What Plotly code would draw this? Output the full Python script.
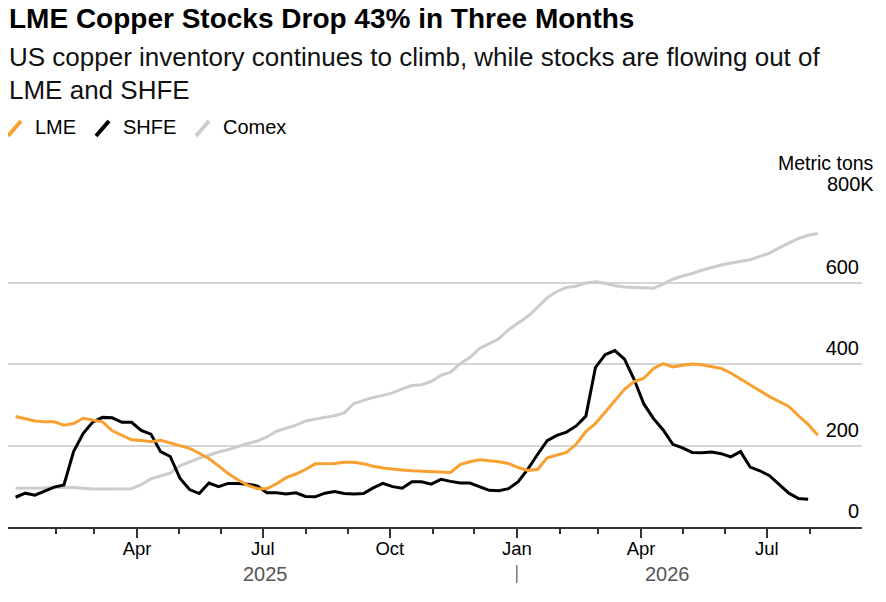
import pandas as pd
import plotly.graph_objects as go

# weekly stock readings, thousand metric tons (Friday closes)
week_start = "2025-01-03"
n_weeks = 84
dates = pd.date_range(week_start, periods=n_weeks, freq="7D")

lme = [271, 265, 260, 258, 258, 250, 254, 267, 263, 258,
       236, 225, 214, 212, 209, 213, 206, 200, 193, 181,
       168, 150, 131, 116, 103, 94, 94, 106, 121, 130,
       141, 155, 156, 156, 159, 159, 155, 149, 145, 142,
       140, 138, 137, 137, 135, 134, 153, 160, 165, 163,
       160, 156, 146, 139, 141, 170, 176, 183, 203, 234,
       254, 281, 310, 338, 357, 365, 389, 401, 393, 397,
       400, 398, 394, 389, 378, 363, 349, 334, 320, 308,
       296, 273, 252, 225]

shfe = [73, 83, 78, 88, 98, 103, 185, 230, 258, 269,
        268, 257, 257, 237, 228, 185, 173, 120, 92, 82,
        108, 99, 107, 107, 105, 101, 84, 84, 81, 84,
        75, 74, 83, 87, 82, 81, 82, 96, 107, 99,
        95, 111, 111, 105, 117, 112, 108, 108, 99, 90,
        89, 94, 111, 142, 178, 212, 225, 233, 248, 272,
        392, 423, 433, 412, 362, 302, 266, 238, 203, 194,
        183, 182, 184, 180, 172, 185, 147, 138, 126, 104,
        83, 70, 68]

comex = [95, 95, 96, 96, 97, 97, 97, 95, 93, 93,
         93, 93, 94, 104, 118, 125, 132, 150, 160, 169,
         176, 184, 190, 198, 205, 211, 221, 235, 242, 250,
         260, 265, 269, 273, 280, 303, 311, 318, 323, 329,
         339, 347, 349, 357, 372, 380, 401, 416, 438, 450,
         462, 484, 500, 517, 539, 563, 578, 588, 591, 599,
         602, 598, 592, 589, 588, 587, 586, 596, 608, 616,
         622, 630, 637, 643, 648, 652, 656, 664, 672, 685,
         697, 708, 716, 720]

quarter_ticks = ["2025-04-01", "2025-07-01", "2025-10-01",
                 "2026-01-01", "2026-04-01", "2026-07-01"]
quarter_labels = ["Apr", "Jul", "Oct", "Jan", "Apr", "Jul"]
month_ticks = pd.date_range("2025-02-01", "2026-08-01", freq="MS")
y_ticks = [0, 200, 400, 600, 800]
y_labels = ["0", "200", "400", "600", ""]

ORANGE = "#f8a030"
GRAY = "#cccccc"
FONT = "Liberation Sans, Arial, sans-serif"

# page has an 8px body margin, so the figure is shrunk and everything
# below is given in page pixels
OFF = 8
W, H = 886 - 2 * OFF, 602 - 2 * OFF
L, R, T, B = 8, 862, 201, 527   # plot area in page pixels


def px_x(p):
    return (p - L) / (R - L)


def px_y(p):
    return (B - p) / (B - T)


fig = go.Figure()
fig.add_trace(go.Scatter(x=dates[:len(comex)], y=comex, name="Comex", mode="lines",
                         line=dict(color=GRAY, width=3)))
fig.add_trace(go.Scatter(x=dates[:len(shfe)], y=shfe, name="SHFE", mode="lines",
                         line=dict(color="#000000", width=3)))
fig.add_trace(go.Scatter(x=dates[:len(lme)], y=lme, name="LME", mode="lines",
                         line=dict(color=ORANGE, width=3)))

fig.update_layout(
    width=W, height=H,
    margin=dict(l=L - OFF, r=W - (R - OFF), t=T - OFF, b=H - (B - OFF), pad=0),
    paper_bgcolor="white", plot_bgcolor="white",
    showlegend=False,
    font=dict(family=FONT, color="#000000"),
)

fig.update_xaxes(
    range=["2024-12-28 12:00", "2026-09-08"],
    tickmode="array", tickvals=quarter_ticks, ticktext=quarter_labels,
    ticks="outside", ticklen=9, tickwidth=1.5, tickcolor="#333333",
    minor=dict(tickmode="array", tickvals=month_ticks, ticks="outside",
               ticklen=5, tickwidth=1.5, tickcolor="#333333", showgrid=False),
    showgrid=False, showline=True, linecolor="#333333", linewidth=2,
    tickfont=dict(size=18.5, color="#000000"),
    ticklabelstandoff=-5,
    zeroline=False,
)

fig.update_yaxes(
    range=[0, 800], side="right",
    tickmode="array", tickvals=y_ticks, ticktext=y_labels,
    ticklabelposition="inside top", ticks="", ticklabelshift=-2,
    tickfont=dict(size=20, color="#000000"),
    showgrid=True, gridcolor="#d6d6d6", gridwidth=1.5,
    zeroline=False, showline=False,
)

# header texts
fig.add_annotation(text="<b>LME Copper Stocks Drop 43% in Three Months</b>",
                   x=px_x(7), y=px_y(19), xref="paper", yref="paper",
                   xanchor="left", yanchor="middle", showarrow=False,
                   font=dict(size=28, color="#000000"))
fig.add_annotation(text="US copper inventory continues to climb, while stocks are flowing out of",
                   x=px_x(7), y=px_y(57), xref="paper", yref="paper",
                   xanchor="left", yanchor="middle", showarrow=False,
                   font=dict(size=26, color="#111111"))
fig.add_annotation(text="LME and SHFE",
                   x=px_x(7), y=px_y(90), xref="paper", yref="paper",
                   xanchor="left", yanchor="middle", showarrow=False,
                   font=dict(size=26, color="#111111"))

# legend drawn by hand: slanted strokes with labels
legend_items = [("LME", ORANGE, 8, 33), ("SHFE", "#000000", 96, 121), ("Comex", GRAY, 196, 221)]
for name, color, sx, tx in legend_items:
    fig.add_shape(type="line", xref="paper", yref="paper",
                  x0=px_x(sx), y0=px_y(136), x1=px_x(sx + 13), y1=px_y(121),
                  line=dict(color=color, width=4))
    fig.add_annotation(text=name, x=px_x(tx), y=px_y(127), xref="paper", yref="paper",
                       xanchor="left", yanchor="middle", showarrow=False,
                       font=dict(size=20, color="#000000"))

# unit label and top tick
fig.add_annotation(text="Metric tons", x=px_x(876), y=px_y(163), xref="paper", yref="paper",
                   xanchor="right", yanchor="middle", showarrow=False,
                   font=dict(size=19.5, color="#000000"))
fig.add_annotation(text="800K", x=px_x(876), y=px_y(184), xref="paper", yref="paper",
                   xanchor="right", yanchor="middle", showarrow=False,
                   font=dict(size=20, color="#000000"))

# year labels under the axis
for yr, pos in [("2025", "2025-07-03"), ("2026", "2026-04-20")]:
    fig.add_annotation(text=yr, x=pos, y=px_y(574), xref="x", yref="paper",
                       xanchor="center", yanchor="middle", showarrow=False,
                       font=dict(size=20, color="#555555"))
fig.add_shape(type="line", xref="x", yref="paper",
              x0="2026-01-01", x1="2026-01-01", y0=px_y(565), y1=px_y(583),
              line=dict(color="#777777", width=1.5))

fig.write_html("out.html")
